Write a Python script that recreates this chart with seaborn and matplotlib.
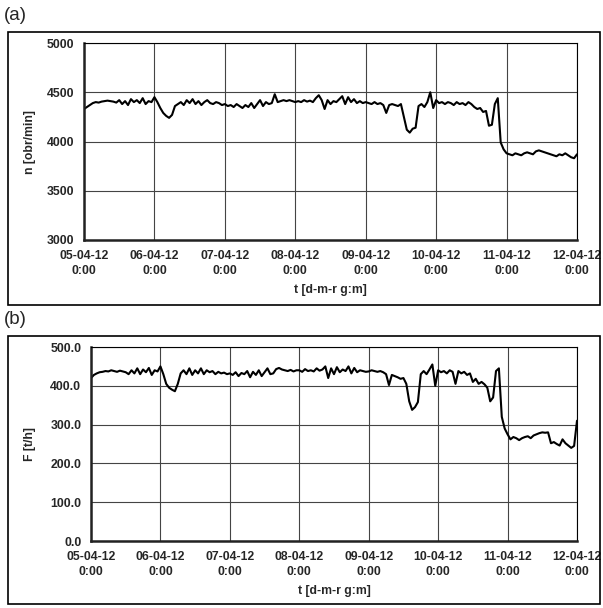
import numpy as np
import pandas as pd
import matplotlib
matplotlib.use("Agg")
import matplotlib.pyplot as plt
from matplotlib.patches import Rectangle
import seaborn as sns

sns.set_style("white")
plt.rcParams['font.family'] = ['Liberation Sans', 'DejaVu Sans']

# hourly readings, 05-04-12 0:00 .. 12-04-12 0:00
n_day1 = [4330, 4350, 4370, 4390, 4400, 4395, 4405, 4410, 4415, 4410, 4405, 4395,
          4420, 4380, 4410, 4370, 4430, 4400, 4420, 4390, 4440, 4380, 4410, 4400]
n_day2 = [4450, 4400, 4340, 4290, 4260, 4240, 4270, 4360, 4380, 4400, 4370, 4420,
          4390, 4430, 4380, 4410, 4370, 4400, 4420, 4390, 4380, 4400, 4390, 4370]
n_day3 = [4380, 4360, 4370, 4350, 4380, 4360, 4340, 4370, 4350, 4390, 4340, 4380,
          4420, 4360, 4400, 4380, 4390, 4480, 4400, 4410, 4420, 4410, 4420, 4410]
n_day4 = [4400, 4410, 4400, 4420, 4405, 4415, 4400, 4440, 4470, 4420, 4330, 4420,
          4380, 4410, 4400, 4430, 4460, 4380, 4450, 4400, 4430, 4390, 4410, 4390]
n_day5 = [4400, 4390, 4380, 4400, 4380, 4390, 4370, 4290, 4370, 4380, 4370, 4360,
          4380, 4250, 4120, 4090, 4130, 4140, 4360, 4380, 4350, 4400, 4500, 4340]
n_day6 = [4420, 4390, 4400, 4380, 4400, 4390, 4370, 4400, 4380, 4390, 4370, 4400,
          4380, 4350, 4330, 4340, 4300, 4310, 4160, 4170, 4380, 4440, 3990, 3920]
n_day7 = [3880, 3870, 3860, 3880, 3870, 3860, 3880, 3890, 3880, 3870, 3900, 3910,
          3900, 3890, 3880, 3870, 3860, 3850, 3870, 3860, 3880, 3860, 3840, 3830, 3870]

f_day1 = [420, 428, 432, 435, 436, 438, 437, 440, 438, 436, 439, 437,
          435, 430, 440, 432, 445, 430, 442, 435, 446, 428, 440, 437]
f_day2 = [450, 430, 405, 395, 390, 386, 405, 432, 440, 430, 445, 428,
          440, 432, 445, 430, 440, 435, 438, 430, 436, 432, 434, 430]
f_day3 = [432, 428, 435, 425, 433, 430, 438, 422, 436, 428, 440, 425,
          435, 445, 430, 432, 443, 446, 442, 440, 438, 441, 437, 440]
f_day4 = [440, 436, 443, 438, 440, 437, 445, 439, 442, 450, 420, 445,
          430, 448, 435, 442, 438, 450, 432, 446, 435, 440, 438, 436]
f_day5 = [437, 440, 438, 436, 438, 435, 430, 402, 428, 425, 422, 418,
          420, 405, 360, 338, 345, 358, 430, 438, 430, 442, 455, 400]
f_day6 = [440, 435, 438, 432, 440, 436, 405, 438, 432, 436, 428, 432,
          410, 418, 405, 410, 404, 395, 360, 370, 438, 445, 320, 290]
f_day7 = [275, 262, 268, 265, 260, 265, 268, 270, 265, 272, 275, 278,
          280, 279, 280, 252, 255, 250, 246, 262, 252, 246, 240, 245, 310]

x_tick_labels = ["05-04-12\n0:00", "06-04-12\n0:00", "07-04-12\n0:00", "08-04-12\n0:00",
                 "09-04-12\n0:00", "10-04-12\n0:00", "11-04-12\n0:00", "12-04-12\n0:00"]
n_ticks = [3000, 3500, 4000, 4500, 5000]
f_ticks = [0, 100, 200, 300, 400, 500]

n_vals = n_day1 + n_day2 + n_day3 + n_day4 + n_day5 + n_day6 + n_day7
f_vals = f_day1 + f_day2 + f_day3 + f_day4 + f_day5 + f_day6 + f_day7
hours = np.arange(len(n_vals))
df = pd.DataFrame({"t": hours, "n": n_vals, "F": f_vals})

W, H = 603, 608
fig = plt.figure(figsize=(W / 100, H / 100), dpi=100)

def fx(px):
    return px / W

def fy(py):
    return 1 - py / H

# outer boxes
for (y0, y1) in [(32, 305), (336, 604)]:
    fig.patches.append(Rectangle((fx(8), fy(y1)), fx(600) - fx(8), fy(y0) - fy(y1),
                                 transform=fig.transFigure, fill=False,
                                 edgecolor="black", linewidth=1.2))
fig.text(fx(4), fy(15), "(a)", fontsize=13.5, va="center", ha="left")
fig.text(fx(4), fy(320), "(b)", fontsize=13.5, va="center", ha="left")

ax1 = fig.add_axes([fx(84), fy(240), fx(577) - fx(84), fy(43) - fy(240)])
ax2 = fig.add_axes([fx(91), fy(541), fx(577) - fx(91), fy(347) - fy(541)])

def style(ax, ylabel, yticks, ylabels, ylim, left_px):
    ax.set_xlim(0, 168)
    ax.set_ylim(*ylim)
    ax.set_xticks(np.arange(0, 169, 24))
    ax.set_xticklabels(x_tick_labels, fontsize=8.8, fontweight="bold", linespacing=1.4)
    ax.set_yticks(yticks)
    ax.set_yticklabels(ylabels, fontsize=8.8, fontweight="bold")
    ax.grid(True, color="#444444", linewidth=0.8)
    ax.set_axisbelow(True)
    for s in ["top", "right"]:
        ax.spines[s].set_visible(True)
        ax.spines[s].set_color("black")
        ax.spines[s].set_linewidth(0.8)
    for s in ["left", "bottom"]:
        ax.spines[s].set_color("#222222")
        ax.spines[s].set_linewidth(1.8)
    ax.tick_params(axis="both", direction="out", length=4, width=1, color="black", pad=3)
    ax.set_xlabel("t [d-m-r g:m]", fontsize=8.8, fontweight="bold", labelpad=5)
    ax.set_ylabel(ylabel, fontsize=8.8, fontweight="bold")
    ax.yaxis.set_label_coords((36 - left_px) / (577 - left_px), 0.5)

sns.lineplot(data=df, x="t", y="n", ax=ax1, color="black", linewidth=1.5)
style(ax1, "n [obr/min]", n_ticks, [str(v) for v in n_ticks], (3000, 5000), 84)

sns.lineplot(data=df, x="t", y="F", ax=ax2, color="black", linewidth=1.5)
style(ax2, "F [t/h]", f_ticks, [f"{v:.1f}" for v in f_ticks], (0, 500), 91)

fig.savefig("out.png", dpi=100)
